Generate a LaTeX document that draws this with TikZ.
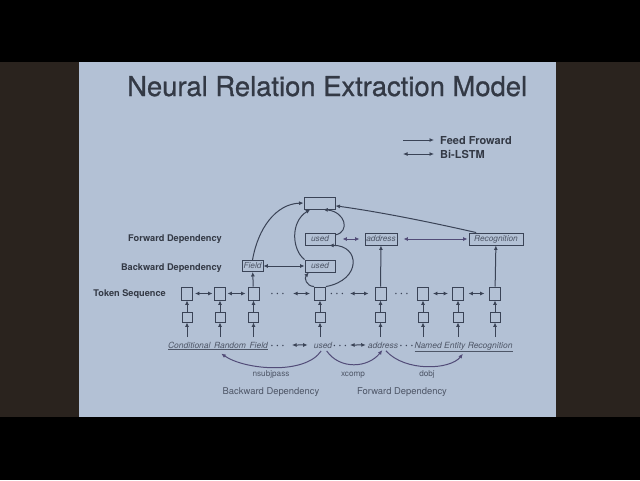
\documentclass[tikz,border=0pt]{standalone}
\usepackage{fontspec}
\setmainfont{TeX Gyre Heros}
\newfontfamily\titlefont[FakeBold=0.8]{TeX Gyre Heros}
\usetikzlibrary{arrows.meta}
\definecolor{lnx}{HTML}{3A4356}
\definecolor{pux}{HTML}{524C78}
\definecolor{txx}{HTML}{333945}
\definecolor{gyx}{HTML}{4E5667}
\definecolor{slx}{HTML}{B3C1D5}
\definecolor{brx}{HTML}{2A231E}
\tikzset{
    lstm/.style={draw=lnx,line width=0.9pt,inner sep=0pt,minimum width=11pt,minimum height=13pt},
    emb/.style={draw=lnx,line width=0.9pt,inner sep=0pt,minimum width=10pt,minimum height=10pt},
    dep/.style={draw=lnx,line width=0.9pt,inner sep=0pt,minimum height=12pt,text=gyx,font=\fontsize{8.3}{9}\selectfont\itshape},
    word/.style={anchor=base,inner sep=1pt,text=gyx,font=\fontsize{8.5}{9}\selectfont\itshape},
    rowlab/.style={anchor=base east,inner sep=0pt,text=txx,font=\fontsize{9.2}{10}\selectfont\bfseries},
    deplab/.style={anchor=base,inner sep=0pt,text=gyx,font=\fontsize{8.2}{9}\selectfont},
    ellip/.style={inner sep=0pt,text=lnx,font=\fontsize{10}{10}\selectfont\bfseries},
    ff/.style={lnx,line width=1pt,-{Latex[length=4.5pt,width=4pt]}},
    bi/.style={lnx,line width=1pt,{Latex[length=4.5pt,width=4pt]}-{Latex[length=4.5pt,width=4pt]}},
    deparc/.style={pux,line width=1pt,-{Latex[length=4.5pt,width=4pt]}}
}

\begin{document}
\begin{tikzpicture}[x=1pt,y=-1pt]
    \useasboundingbox (0,0) rectangle (640,480);
    % room and slide
    \fill [black] (0,0) rectangle (640,480);
    \fill [brx] (0,62) rectangle (79,417);
    \fill [brx] (556,62) rectangle (640,417);
    \fill [slx] (79,62) rectangle (556,417);
    \node [anchor=base west,inner sep=0pt,text=txx,font=\fontsize{27.4}{30}\titlefont] (title) at (127,96) {Neural Relation Extraction Model};
    % legend
    \coordinate (lg1) at (403,140);
    \coordinate (lg2) at (403,154);
    \node [anchor=base west,inner sep=0pt,text=txx,font=\fontsize{11}{12}\selectfont\bfseries] (lfeed) at (440,144) {Feed Froward};
    \node [anchor=base west,inner sep=0pt,text=txx,font=\fontsize{11}{12}\selectfont\bfseries] (lbi) at (440,158) {Bi-LSTM};
    \draw [ff] (lg1) -- (lg1 -| lfeed.west) [shorten >=6pt];
    \draw [bi] (lg2) -- (lg2 -| lbi.west) [shorten >=6pt];
    % row labels
    \node [rowlab] (lfwd) at (222,241.5) {Forward Dependency};
    \node [rowlab] (lbwd) at (222,270.5) {Backward Dependency};
    \node [rowlab] (ltok) at (166,296.5) {Token Sequence};
    % dependency boxes
    \node [dep,minimum width=31pt] (top) at (319.5,203) {};
    \node [dep,minimum width=30pt] (usedf) at (320,239) {used};
    \node [dep,minimum width=30pt] (usedb) at (320,266) {used};
    \node [dep,minimum width=21pt,minimum height=11pt] (field) at (252.5,266) {Field};
    \node [dep,minimum width=32pt] (addr) at (381,239) {address};
    \node [dep,minimum width=54pt] (recog) at (496,239) {Recognition};
    % token columns
    \foreach \n/\x in {1/187,2/220,3/253.5,4/320,5/380.5,6/423,7/458,8/495} {
        \node [lstm] (t\n) at (\x,293.5) {};
        \node [emb] (e\n) at (\x,317) {};
        \coordinate (w\n) at (\x,337);
        \draw [ff] (w\n) -- (e\n);
        \draw [ff] (e\n) -- (t\n);
    }
    \draw [bi,shorten <=2pt,shorten >=1.5pt] (t1) -- (t2);
    \draw [bi,shorten <=1.5pt,shorten >=2pt] (t2) -- (t3);
    \node [ellip] (d1) at (277.5,294.5) {· · ·};
    \coordinate (b4) at (293,293.5);
    \draw [bi,shorten >=4pt] (b4) -- (t4);
    \node [ellip] (d2) at (337,294.5) {· · ·};
    \coordinate (b5) at (350,293.5);
    \draw [bi,shorten >=6pt] (b5) -- (t5);
    \node [ellip] (d3) at (401.5,294.5) {· · ·};
    \draw [bi,shorten <=4pt,shorten >=4pt] (t6) -- (t7);
    \draw [bi,shorten <=4.5pt,shorten >=4.5pt] (t7) -- (t8);
    % words
    \node [word] (crf) at (218,348) {\underline{Conditional\hspace{3.5pt}Random\hspace{3.5pt}Field}};
    \node [ellip] (d4) at (277.5,346.5) {· · ·};
    \node [word] (usedw) at (323,348) {used};
    \node [ellip] (d5) at (340,346.5) {· · ·};
    \node [word] (addrw) at (383,348) {address};
    \node [ellip] (d6) at (406.5,346.5) {· · ·};
    \node [word] (ner) at (463.5,348) {\underline{Named Entity Recognition}};
    \coordinate (c1) at (292,345);
    \coordinate (c2) at (350,345);
    \draw [bi,shorten >=5pt] (c1) -- (usedw);
    \draw [bi,shorten >=1pt] (c2) -- (addrw);
    % upper connectors
    \draw [ff] (t3) -- (field);
    \draw [ff] (t5) -- (addr);
    \draw [ff] (t8) -- (recog);
    \draw [bi] (field) -- (usedb);
    \draw [bi,pux,shorten <=7pt,shorten >=5pt] (usedf) -- (addr);
    \draw [bi,pux,shorten <=6pt,shorten >=1pt] (addr) -- (recog);
    \draw [ff] (field.north) .. controls (258,228) and (276,204) .. (top.west);
    \draw [ff] (usedb.north west) .. controls (292,250) and (290,222) .. (top.-145);
    \draw [ff] (usedf.15) .. controls (350,232) and (346,212) .. (top.-60);
    \draw [ff] (t4.north west) .. controls (306,286) and (304,278) .. (usedb.-150);
    \draw [ff] (t4.north east) .. controls (362,280) and (360,245) .. (usedf.-35);
    \draw [ff] (recog.162) .. controls (430,222) and (380,212) .. (top.-10);
    % dependency arcs
    \draw [deparc,shorten <=2pt,shorten >=4pt] (usedw.-100) .. controls (305,375) and (245,370) .. (crf.south);
    \draw [deparc,shorten <=2pt,shorten >=1pt] (usedw.-60) .. controls (340,370) and (368,368) .. (addrw.south);
    \draw [deparc,shorten <=2pt,shorten >=1pt] (addrw.-70) .. controls (405,372) and (450,370) .. (ner.south);
    \node [deplab] (lnsub) at (271,376) {nsubjpass};
    \node [deplab] (lxcomp) at (353,376) {xcomp};
    \node [deplab] (ldobj) at (427,376) {dobj};
    \node [deplab,font=\fontsize{9.4}{10}\selectfont] (lback) at (271,394.5) {Backward Dependency};
    \node [deplab,font=\fontsize{9.4}{10}\selectfont] (lforw) at (402,394.5) {Forward Dependency};
\end{tikzpicture}
\end{document}
